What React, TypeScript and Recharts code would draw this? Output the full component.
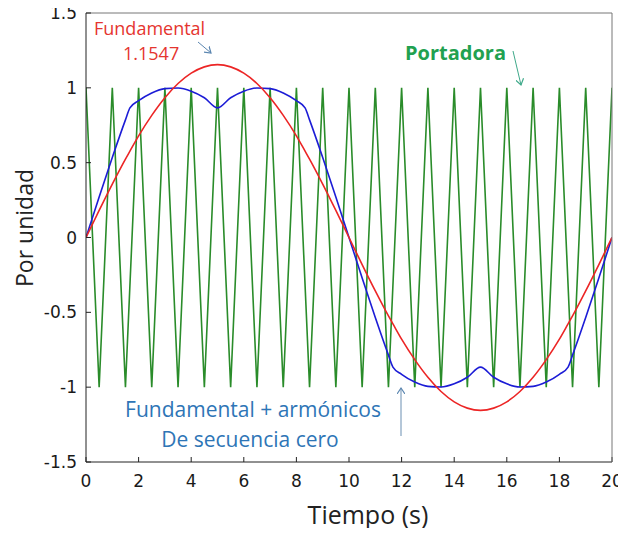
import { LineChart, Line, XAxis, YAxis } from "recharts";

const xTicks = [0, 2, 4, 6, 8, 10, 12, 14, 16, 18, 20];
const yTicks = [-1.5, -1, -0.5, 0, 0.5, 1, 1.5];

// portadora: vertices of the triangle carrier
const carrierTime = [
  0, 0.5, 1, 1.5, 2, 2.5, 3, 3.5, 4, 4.5, 5, 5.5, 6, 6.5, 7, 7.5, 8, 8.5, 9, 9.5, 10,
  10.5, 11, 11.5, 12, 12.5, 13, 13.5, 14, 14.5, 15, 15.5, 16, 16.5, 17, 17.5, 18, 18.5, 19, 19.5, 20,
];
const carrierValue = [
  1, -1, 1, -1, 1, -1, 1, -1, 1, -1, 1, -1, 1, -1, 1, -1, 1, -1, 1, -1, 1,
  -1, 1, -1, 1, -1, 1, -1, 1, -1, 1, -1, 1, -1, 1, -1, 1, -1, 1, -1, 1,
];

const signalTime = [
  0, 0.5, 1, 1.5, 1.67, 2, 2.5, 3, 3.5, 4, 4.5, 5, 5.5, 6, 6.5, 7, 7.5, 8, 8.33, 8.5, 9, 9.5, 10,
  10.5, 11, 11.5, 11.67, 12, 12.5, 13, 13.5, 14, 14.5, 15, 15.5, 16, 16.5, 17, 17.5, 18, 18.33, 18.5, 19, 19.5, 20,
];
const fundamental = [
  0, 0.181, 0.357, 0.524, 0.577, 0.679, 0.816, 0.934, 1.029, 1.098, 1.14, 1.155, 1.14, 1.098, 1.029, 0.934, 0.816, 0.679, 0.577, 0.524, 0.357, 0.181, 0,
  -0.181, -0.357, -0.524, -0.577, -0.679, -0.816, -0.934, -1.029, -1.098, -1.14, -1.155, -1.14, -1.098, -1.029, -0.934, -0.816, -0.679, -0.577, -0.524, -0.357, -0.181, 0,
];
const withHarmonics = [
  0, 0.271, 0.535, 0.786, 0.866, 0.914, 0.966, 0.995, 0.999, 0.978, 0.934, 0.866, 0.934, 0.978, 0.999, 0.995, 0.966, 0.914, 0.866, 0.786, 0.535, 0.271, 0,
  -0.271, -0.535, -0.786, -0.866, -0.914, -0.966, -0.995, -0.999, -0.978, -0.934, -0.866, -0.934, -0.978, -0.999, -0.995, -0.966, -0.914, -0.866, -0.786, -0.535, -0.271, 0,
];

const carrierData = carrierTime.map((t, i) => ({ t, v: carrierValue[i] }));
const redData = signalTime.map((t, i) => ({ t, v: fundamental[i] }));
const blueData = signalTime.map((t, i) => ({ t, v: withHarmonics[i] }));

const tickFont = { fontFamily: "'DejaVu Sans', sans-serif", fontSize: 17, fill: "#1a1a1a" };
const noteFont = "'Open Sans', sans-serif";

export default function App() {
  return (
    <div style={{ position: "relative", width: 626, height: 536, margin: -8, background: "#fff" }}>
      <LineChart width={626} height={536} margin={{ top: 0, right: 0, bottom: 0, left: 0 }}>
        <XAxis
          xAxisId="b"
          dataKey="t"
          type="number"
          domain={[0, 20]}
          ticks={xTicks}
          height={74}
          tickSize={-5}
          tickMargin={18}
          tick={tickFont}
          stroke="#222"
          allowDataOverflow
        />
        <XAxis
          xAxisId="t"
          orientation="top"
          type="number"
          domain={[0, 20]}
          ticks={xTicks}
          height={13}
          tickSize={-5}
          tick={false}
          stroke="#777"
          allowDataOverflow
        />
        <YAxis
          yAxisId="l"
          type="number"
          domain={[-1.5, 1.5]}
          ticks={yTicks}
          width={86}
          tickSize={-5}
          tickMargin={14}
          tick={tickFont}
          stroke="#222"
          allowDataOverflow
        />
        <YAxis
          yAxisId="r"
          orientation="right"
          type="number"
          domain={[-1.5, 1.5]}
          ticks={yTicks}
          width={14}
          tickSize={-5}
          tick={false}
          stroke="#777"
          allowDataOverflow
        />
        <Line
          xAxisId="b"
          yAxisId="l"
          data={carrierData}
          dataKey="v"
          type="linear"
          stroke="#2a8c2a"
          strokeWidth={1.6}
          dot={false}
          isAnimationActive={false}
        />
        <Line
          xAxisId="b"
          yAxisId="l"
          data={blueData}
          dataKey="v"
          type="monotone"
          stroke="#1c1cd6"
          strokeWidth={1.6}
          dot={false}
          isAnimationActive={false}
        />
        <Line
          xAxisId="b"
          yAxisId="l"
          data={redData}
          dataKey="v"
          type="monotone"
          stroke="#ec2525"
          strokeWidth={1.6}
          dot={false}
          isAnimationActive={false}
        />
      </LineChart>
      <svg
        width={626}
        height={536}
        style={{ position: "absolute", left: 0, top: 0, pointerEvents: "none" }}
      >
        <defs>
          <marker id="headBlue" markerWidth="8" markerHeight="8" refX="6" refY="4" orient="auto">
            <path d="M0,0 L6,4 L0,8" fill="none" stroke="#5b86b0" strokeWidth="1.2" />
          </marker>
          <marker id="headGreen" markerWidth="8" markerHeight="8" refX="6" refY="4" orient="auto">
            <path d="M0,0 L6,4 L0,8" fill="none" stroke="#3fa98a" strokeWidth="1.2" />
          </marker>
        </defs>
        <text x={94} y={35} fontFamily={noteFont} fontSize={18} fill="#e5352f">Fundamental</text>
        <text x={123} y={60} fontFamily={noteFont} fontSize={18} fill="#e5352f">1.1547</text>
        <line x1={198} y1={42} x2={211} y2={53} stroke="#5b86b0" strokeWidth={1} markerEnd="url(#headBlue)" />
        <text x={405} y={60} fontFamily={noteFont} fontSize={20} fontWeight="bold" fill="#21a150">Portadora</text>
        <line x1={513} y1={51} x2={521} y2={85} stroke="#3fa98a" strokeWidth={1} markerEnd="url(#headGreen)" />
        <text x={253} y={417} textAnchor="middle" fontFamily={noteFont} fontSize={21} fill="#2e75b6">
          Fundamental + armónicos
        </text>
        <text x={250} y={447} textAnchor="middle" fontFamily={noteFont} fontSize={21} fill="#2e75b6">
          De secuencia cero
        </text>
        <line x1={401} y1={436} x2={401} y2={388} stroke="#6b8fb2" strokeWidth={1} markerEnd="url(#headBlue)" />
        <text x={368} y={524} textAnchor="middle" fontFamily={noteFont} fontSize={25} fill="#222">
          Tiempo (s)
        </text>
        <text
          x={0}
          y={0}
          transform="translate(33,228) rotate(-90)"
          textAnchor="middle"
          fontFamily={noteFont}
          fontSize={23}
          fill="#222"
        >
          Por unidad
        </text>
      </svg>
    </div>
  );
}
